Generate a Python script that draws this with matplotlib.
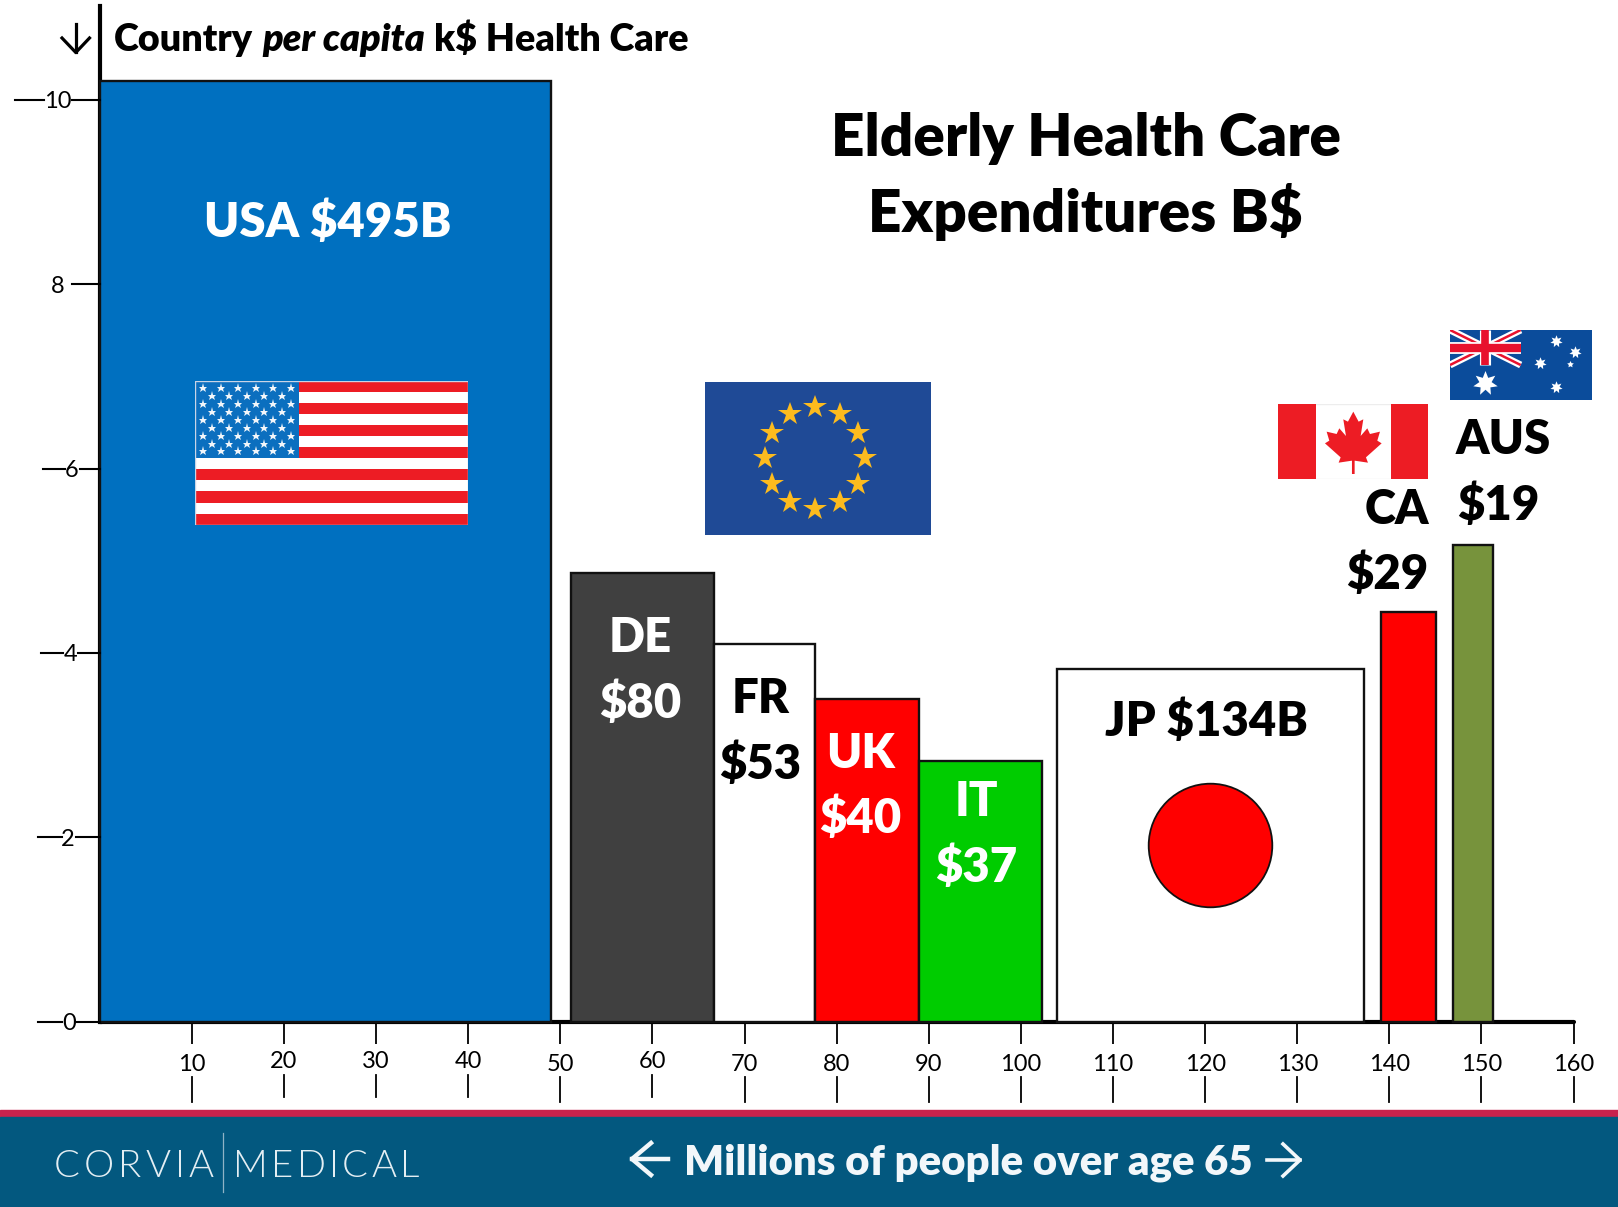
#!/usr/bin/env python3
"""Elderly health care spending: variable-width bars, population against per capita cost."""

import numpy as np
import matplotlib
matplotlib.use("Agg")
import matplotlib.pyplot as plt
from matplotlib.lines import Line2D
from matplotlib.patches import Rectangle, Polygon
from matplotlib.transforms import blended_transform_factory

# millions of people over 65 (bar start and width), k$ per person (bar height)
countries = ["USA", "DE", "FR", "UK", "IT", "JP", "CA", "AUS"]
pop_start = [0.0, 51.2, 66.7, 77.7, 88.9, 103.9, 139.1, 146.9]
pop_width = [49.0, 15.5, 11.0, 11.2, 13.4, 33.4, 6.0, 4.3]
per_capita = [10.2, 4.87, 4.10, 3.50, 2.83, 3.83, 4.44, 5.17]
bar_colors = ["#0070C0", "#404040", "#FFFFFF", "#FF0000", "#00CC00", "#FFFFFF", "#FF0000", "#77933C"]

x_ticks = list(range(10, 170, 10))
raised_x = [20, 30, 40, 60]
y_ticks = [0, 2, 4, 6, 8, 10]

W, H = 1618, 1207
BOLD = 800
plt.rcParams["font.family"] = ["Lato", "DejaVu Sans"]
fig = plt.figure(figsize=(W / 100, H / 100), dpi=100)


def fx(x):
    return x / W


def fy(y):
    return 1 - y / H


def line(xs, ys, color="black", lw=1.2, **kw):
    fig.add_artist(Line2D([fx(v) for v in xs], [fy(v) for v in ys], color=color, lw=lw,
                          transform=fig.transFigure, **kw))


def label(x, y, s, size=34, color="black", ha="center", weight=BOLD, **kw):
    return fig.text(fx(x), fy(y), s, fontsize=size, color=color, ha=ha, va="baseline",
                    fontweight=weight, **kw)


def spaced(x0, x1, y, s, size, color, weight=300):
    # matplotlib has no letter spacing, so place the glyphs one by one across x0..x1
    renderer = fig.canvas.get_renderer()
    items = [label(x0, y, c, size=size, color=color, ha="left", weight=weight) for c in s]
    widths = [t.get_window_extent(renderer).width for t in items]
    gap = (x1 - x0 - sum(widths)) / (len(s) - 1)
    cursor = x0
    for t, w in zip(items, widths):
        t.set_x(fx(cursor))
        cursor += w + gap


def flag_axes(x0, y0, x1, y1):
    a = fig.add_axes([fx(x0), fy(y1), (x1 - x0) / W, (y1 - y0) / H])
    a.set_xlim(x0, x1)
    a.set_ylim(y1, y0)
    a.axis("off")
    return a


# main chart
ax_left, ax_right, ax_top, ax_bottom = 99.7, 1573.6, 6, 1021.7
ax = fig.add_axes([fx(ax_left), fy(ax_bottom), (ax_right - ax_left) / W, (ax_bottom - ax_top) / H])
ax.patch.set_visible(False)
ax.set_xlim(0, 160)
ax.set_ylim(0, (ax_bottom - ax_top) / 92.2)
ax.spines[["top", "right"]].set_visible(False)
ax.spines[["left", "bottom"]].set_linewidth(3.0)
ax.spines[["left", "bottom"]].set_zorder(1)
ax.spines["bottom"].set_capstyle("round")

ax.bar(pop_start, per_capita, width=pop_width, align="edge", color=bar_colors,
       edgecolor="#111111", linewidth=1.7, zorder=2, clip_on=False)

# Japan's disc sits on its bar
ax.plot(120.55, 1.913, "o", ms=89, mfc="#FF0000", mec="#111111", mew=1.3, zorder=3)

# x ticks: upper part on the axis, label, then a second stub below it
ax.set_xticks(x_ticks)
ax.tick_params(axis="x", length=15.5, width=1.3, labelsize=17, pad=8)
for tick, v in zip(ax.xaxis.get_major_ticks(), x_ticks):
    if v in raised_x:
        tick.tick1line.set_markersize(14)
        tick.set_pad(5.5)
trans = blended_transform_factory(ax.transData, fig.transFigure)
for v in x_ticks:
    y0, y1 = (1075, 1097) if v in raised_x else (1077, 1102)
    ax.add_line(Line2D([v, v], [fy(y0), fy(y1)], color="black", lw=1.3, transform=trans, clip_on=False))

# y ticks have uneven gaps around their labels
ax.set_yticks(y_ticks)
ax.tick_params(axis="y", length=0, labelsize=17)
label_right = {0: 76, 2: 75, 4: 77, 6: 79, 8: 64, 10: 72}
tick_from = {0: 77, 2: 76, 4: 78, 6: 80, 8: 72, 10: 72}
dash = {0: (38, 62), 2: (38, 62), 4: (41, 63), 6: (43, 65), 10: (15, 44)}
for tick, v in zip(ax.yaxis.get_major_ticks(), y_ticks):
    tick.set_pad((ax_left - label_right[v]) * 0.72)
    yp = ax_bottom - 92.2 * v
    line([tick_from[v], ax_left], [yp, yp], lw=1.5)
    if v in dash:
        line(dash[v], [yp, yp], lw=1.5)

# axis heading, mixed upright and italic
renderer = fig.canvas.get_renderer()
cursor = 113.5
for piece, style in [("Country", "normal"), ("per capita", "italic"), ("k$ Health Care", "normal")]:
    t = label(cursor, 51, piece, size=27.2, style=style, ha="left")
    cursor += t.get_window_extent(renderer).width + 9.5

line([75.8, 75.8], [24, 52], lw=2.3)
line([62, 75.8, 89.5], [38, 52.5, 38], lw=2.3)

# titles and bar labels
label(1085.6, 156, "Elderly Health Care", size=42)
label(1085.6, 232, "Expenditures B$", size=42)
label(328, 237, "USA $495B", color="white")
label(640, 652, "DE", color="white")
label(640, 718, "$80", color="white")
label(760.5, 713, "FR")
label(760.5, 779, "$53")
label(860.6, 768, "UK", color="white")
label(860.6, 833, "$40", color="white")
label(976, 816, "IT", color="white")
label(976, 882, "$37", color="white")
label(1206.7, 736, "JP $134B")
label(1429, 524, "CA", ha="right")
label(1428, 589, "$29", ha="right")
label(1456, 454, "AUS", ha="left")
label(1457, 520, "$19", ha="left")

# footer band
fig.add_artist(Rectangle((0, fy(1117.3)), 1, (1117.3 - 1110) / H, color="#C8224D", transform=fig.transFigure))
fig.add_artist(Rectangle((0, 0), 1, fy(1117.3), color="#03587F", transform=fig.transFigure))
line([223, 223], [1133, 1192], color="#8FB3C6", lw=0.9)
spaced(54, 214, 1177, "CORVIA", 27.5, "#E4EEF3")
spaced(233, 419, 1177, "MEDICAL", 27.5, "#E4EEF3")
label(968, 1174, "Millions of people over age 65", size=30.2, color="#F2F7FA")
line([668, 632], [1159, 1159], color="#F2F7FA", lw=3.2)
line([651, 632, 651], [1143, 1159, 1175], color="#F2F7FA", lw=3.2)
line([1267, 1300], [1160, 1160], color="#F2F7FA", lw=2.6)
line([1283, 1300, 1283], [1144, 1160, 1176], color="#F2F7FA", lw=2.6)

# US flag
us = flag_axes(195, 380.7, 467.7, 524.7)
stripe = (524.7 - 380.7) / 13
for i in range(13):
    us.add_patch(Rectangle((195, 380.7 + i * stripe), 272.7, stripe, color="#ED1C24" if i % 2 == 0 else "white", lw=0))
us.add_patch(Rectangle((195, 380.7), 103.7, 77.3, color="#0B6FBF", lw=0))
for row in range(9):
    n = 6 if row % 2 == 0 else 5
    off = 0 if row % 2 == 0 else 8.7
    us.plot(203.3 + off + 17.44 * np.arange(n), np.full(n, 388 + 7.93 * row), "*", color="#F2F6FA", ms=6.5, mew=0)
us.add_patch(Rectangle((195, 380.7), 272.7, 144, fill=False, ec="#C9D4E6", lw=1.0))

# EU flag
eu = flag_axes(705.3, 382.3, 931.3, 534.7)
eu.add_patch(Rectangle((705.3, 382.3), 226, 152.4, color="#1F4A96", lw=0))
angles = np.deg2rad(np.arange(0, 360, 30))
eu.plot(815 + 50 * np.sin(angles), 458.3 - 51 * np.cos(angles), "*", color="#FDBB1E", ms=17.5, mew=0)

# Canadian flag
ca = flag_axes(1278.3, 404.3, 1427.7, 479)
ca.add_patch(Rectangle((1278.3, 404.3), 149.4, 74.7, fill=False, ec="#EDEDED", lw=1.0))
ca.add_patch(Rectangle((1278.3, 404.3), 37.4, 74.7, color="#ED1C24", lw=0))
ca.add_patch(Rectangle((1391.3, 404.3), 36.4, 74.7, color="#ED1C24", lw=0))
leaf_dx = np.array([0, 16, 30, 22, 42, 50, 80, 72, 85, 38, 44, 4, 4]) / 3
leaf_y = np.array([305, 335, 328, 378, 355, 372, 365, 392, 400, 442, 458, 452, 492]) / 3 + 310
leaf_x = np.concatenate([1353.3 + leaf_dx, (1353.3 - leaf_dx)[::-1]])
ca.add_patch(Polygon(np.column_stack([leaf_x, np.concatenate([leaf_y, leaf_y[::-1]])]), color="#ED1C24", lw=0))

# Australian flag
au = flag_axes(1450, 330, 1592.3, 400)
au.add_patch(Rectangle((1450, 330), 142.3, 70, color="#0B4C9B", lw=0))
jack = Rectangle((1450, 330), 70.7, 35, transform=au.transData, fill=False, lw=0)
au.add_patch(jack)
for (xs, ys) in [([1450, 1520.7], [330, 365]), ([1450, 1520.7], [365, 330])]:
    au.plot(xs, ys, color="white", lw=5, solid_capstyle="butt", clip_path=jack)
    au.plot(xs, ys, color="#E8112D", lw=1.8, solid_capstyle="butt", clip_path=jack)
au.plot([1485.3, 1485.3], [330, 365], color="white", lw=8, solid_capstyle="butt")
au.plot([1450, 1520.7], [347.5, 347.5], color="white", lw=8.5, solid_capstyle="butt")
au.plot([1485.3, 1485.3], [330, 365], color="#E8112D", lw=5.5, solid_capstyle="butt")
au.plot([1450, 1520.7], [347.5, 347.5], color="#E8112D", lw=6, solid_capstyle="butt")
au.plot(1485, 382.7, marker=(7, 1, 0), color="white", ms=18, mew=0)
au.plot([1556, 1575, 1540, 1556], [340.7, 352.3, 363.3, 386.7], marker=(7, 1, 0), ls="", color="white", ms=9, mew=0)
au.plot(1570, 364.3, marker=(5, 1, 0), color="white", ms=5, mew=0)

fig.savefig("out.png", dpi=100)
